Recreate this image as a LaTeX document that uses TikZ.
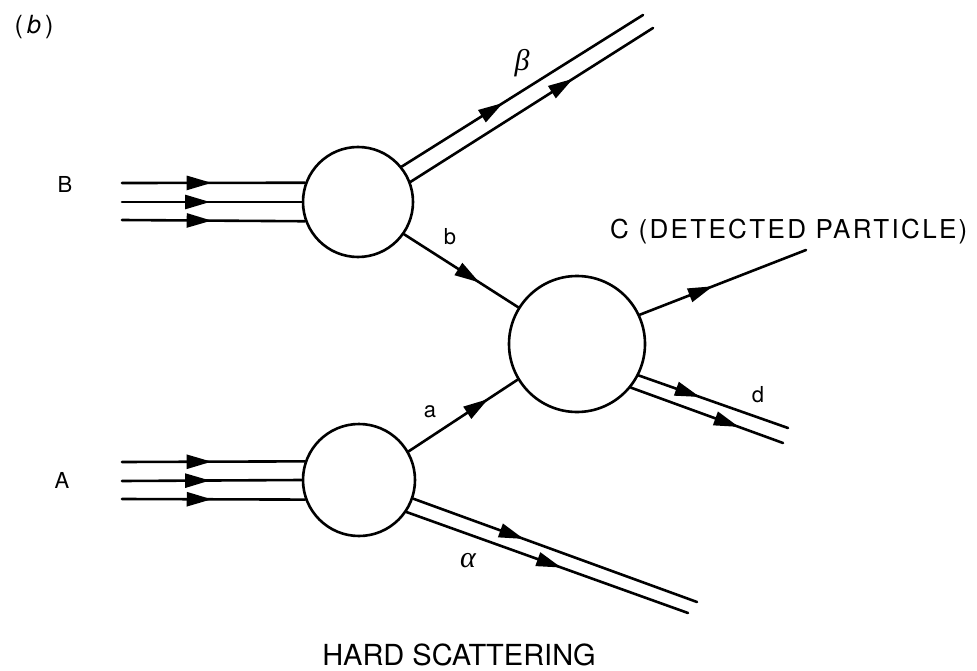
\documentclass[tikz,border=0pt]{standalone}
\usepackage{fontspec}
\setmainfont{TeX Gyre Heros}
\newfontfamily\widefont{TeX Gyre Heros}[LetterSpace=9]
\newfontfamily\grkfont{Liberation Serif}
\usetikzlibrary{arrows.meta,decorations.markings}
\begin{document}
\begin{tikzpicture}[x=1pt,y=-1pt,
  ln/.style={line width=2.6pt, line cap=round},
  blob/.style={circle, draw, line width=2.6pt, inner sep=0pt, minimum size=#1},
  arr/.style={postaction={decorate,decoration={markings,
      mark=at position #1 with {\arrow{Triangle[length=25pt,width=14pt]}}}}},
  lbl/.style={font=\fontsize{22}{26}\selectfont, inner sep=0pt},
  greek/.style={font=\fontsize{30}{36}\selectfont\grkfont\itshape, inner sep=0pt},
  big/.style={font=\fontsize{26}{30}\selectfont, inner sep=0pt}]
\useasboundingbox (0,0) rectangle (977,671);
% blobs
\node[blob=110pt] (B) at (358,202) {};
\node[blob=112pt] (A) at (359,480) {};
\node[blob=136pt] (C) at (577,344) {};
% free ends
\coordinate (b1) at (122,183);
\coordinate (b2) at (122,202);
\coordinate (b3) at (122,220);
\coordinate (a1) at (122,462);
\coordinate (a2) at (122,481);
\coordinate (a3) at (122,499);
\coordinate (be1) at (643,15);
\coordinate (be2) at (653,28);
\coordinate (ce) at (806,250);
\coordinate (d1) at (788,428);
\coordinate (d2) at (783,443);
\coordinate (al1) at (697,602);
\coordinate (al2) at (688,613);
% incoming hadrons
\draw[ln,arr=0.49] (b1) -- (B.160);
\draw[ln,arr=0.49] (b2) -- (B.180);
\draw[ln,arr=0.49] (b3) -- (B.200);
\draw[ln,arr=0.49] (a1) -- (A.161);
\draw[ln,arr=0.49] (a2) -- (A.180);
\draw[ln,arr=0.49] (a3) -- (A.200);
% beta remnant
\draw[ln,arr=0.42] (B.39) -- (be1);
\draw[ln,arr=0.67] (B.21) -- (be2);
% partons
\draw[ln,arr=0.66] (B.-35) -- (C.148);
\draw[ln,arr=0.73] (A.30) -- (C.211);
% outgoing
\draw[ln,arr=0.44] (C.25) -- (ce);
\draw[ln,arr=0.41] (C.-27) -- (d1);
\draw[ln,arr=0.71] (C.-39) -- (d2);
% alpha remnant
\draw[ln,arr=0.39] (A.-19) -- (al1);
\draw[ln,arr=0.55] (A.-34) -- (al2);
% labels
\node[font=\fontsize{25}{30}\selectfont, inner sep=0pt] (lbtag) at (34,27) {(\,\textit{b}\,)};
\node[lbl] (lB) at (65,184) {B};
\node[lbl] (lA) at (62,480) {A};
\node[greek] (lbeta) at (522,63) {β};
\node[lbl] (lb) at (450,237) {b};
\node[lbl] (la) at (430,412) {a};
\node[greek] (lalpha) at (468,561) {α};
\node[lbl] (ld) at (758,395) {d};
\node[big, anchor=west] (lC) at (610,232) {\widefont C (DETECTED PARTICLE)};
\node[font=\fontsize{29}{33}\selectfont, inner sep=0pt] (lhs) at (459,655) {HARD SCATTERING};
\end{tikzpicture}
\end{document}
